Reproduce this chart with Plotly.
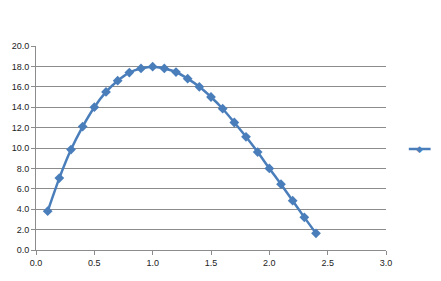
import plotly.graph_objects as go

x_vals = [0.1, 0.2, 0.3, 0.4, 0.5, 0.6, 0.7, 0.8, 0.9, 1.0, 1.1, 1.2,
          1.3, 1.4, 1.5, 1.6, 1.7, 1.8, 1.9, 2.0, 2.1, 2.2, 2.3, 2.4]
y_vals = [3.8, 7.05, 9.85, 12.1, 14.0, 15.5, 16.6, 17.4, 17.8, 17.97, 17.8, 17.45,
          16.8, 16.0, 15.0, 13.85, 12.5, 11.1, 9.6, 8.0, 6.45, 4.83, 3.2, 1.63]
series_name = " "

color = "#4A7EBB"
fig = go.Figure()
fig.add_trace(go.Scatter(
    x=x_vals, y=y_vals, mode="lines+markers", name=series_name,
    line=dict(color=color, width=2.5, shape="spline", smoothing=0.6),
    marker=dict(symbol="diamond", size=7.5, color=color),
    showlegend=False,
))

# legend key drawn at the right (series has no name)
L, R, T, B = 33, 55, 46, 31
pw, ph = 441 - L - R, 281 - T - B
def px_x(p):
    return (p - L) / pw
def px_y(p):
    return (281 - B - p) / ph

fig.add_shape(type="line", xref="paper", yref="paper",
              x0=px_x(409), x1=px_x(431), y0=px_y(149), y1=px_y(149),
              line=dict(color=color, width=2.5))
fig.add_annotation(xref="paper", yref="paper", x=px_x(420), y=px_y(148.5),
                   text="◆", showarrow=False, xanchor="center", yanchor="middle",
                   font=dict(color=color, size=9, family="DejaVu Sans"))

fig.update_layout(
    width=441, height=281,
    margin=dict(l=L, r=R, t=T, b=B),
    paper_bgcolor="white", plot_bgcolor="white",
    font=dict(family="Liberation Sans, Arial, sans-serif", size=9, color="#222222"),
    showlegend=False,
    xaxis=dict(range=[0, 3.0], dtick=0.5, tickformat=".1f", showgrid=False,
               zeroline=False, showline=True, linecolor="#8c8c8c", linewidth=1,
               ticks="outside", ticklen=4, tickcolor="#8c8c8c", fixedrange=True),
    yaxis=dict(range=[0, 20.0], dtick=2.0, tickformat=".1f", showgrid=True,
               gridcolor="#8c8c8c", gridwidth=1, zeroline=False, showline=True,
               linecolor="#8c8c8c", linewidth=1, ticks="outside", ticklen=4,
               tickcolor="#8c8c8c", fixedrange=True),
)

fig.write_html("out.html")
